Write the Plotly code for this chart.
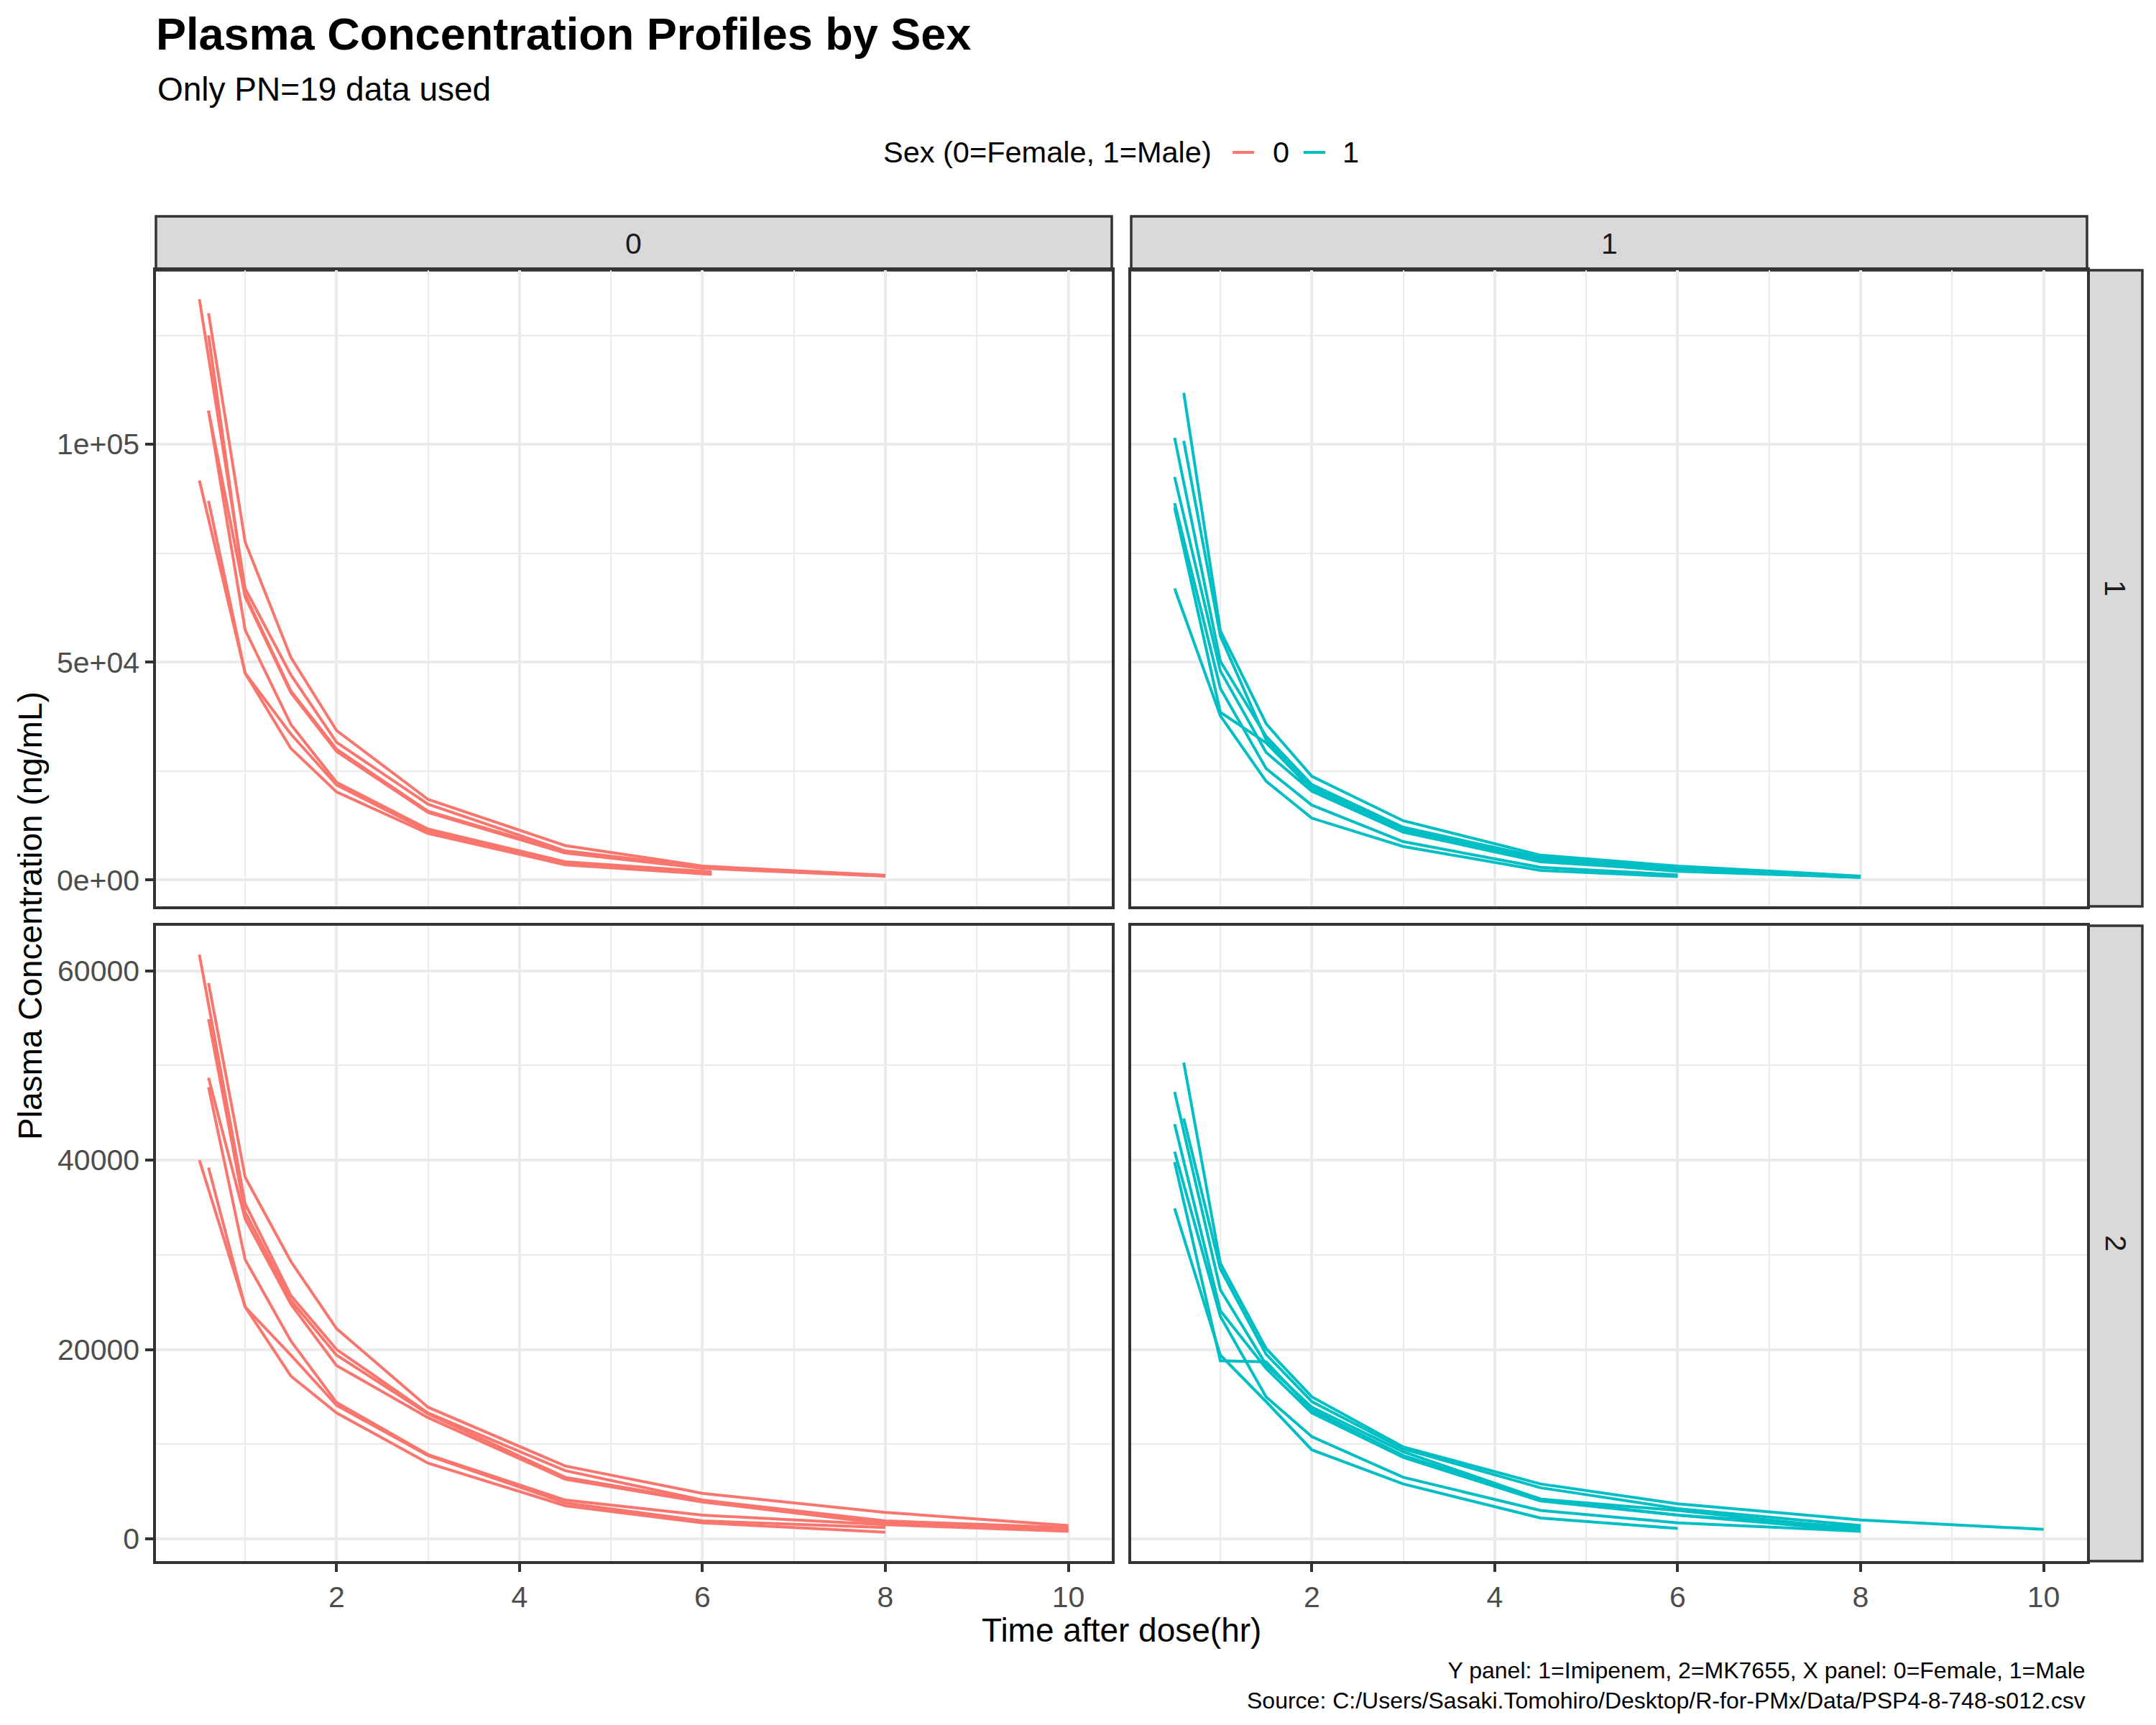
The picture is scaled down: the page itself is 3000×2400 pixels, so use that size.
"""
Profils de concentration plasmatique par sexe (Imipenem / MK7655).
Grille 2x2 : lignes = analyte (1=Imipenem, 2=MK7655), colonnes = sexe (0=Femme, 1=Homme).
"""
# Importations
import plotly.graph_objects as go

# Dimensions de la page (la page HTML garde une marge de 8 px autour du graphique)
W: int = 3000
H: int = 2400
MARGE: int = 8
FW: int = W - 2 * MARGE
FH: int = H - 2 * MARGE

# Femmes (Sex = 0) - Imipenem
f_imi_temps: list[list[float]] = [
	[0.5, 1, 1.5, 2, 3, 4.5, 6, 8],
	[0.6, 1, 1.5, 2, 3, 4.5, 6, 8],
	[0.6, 1, 1.5, 2, 3, 4.5, 6, 8],
	[0.6, 1, 1.5, 2, 3, 4.5, 6, 8],
	[0.5, 1, 1.5, 2, 3, 4.5, 6.1],
	[0.6, 1, 1.5, 2, 3, 4.5, 6.1],
	[0.6, 1, 1.5, 2, 3, 4.5, 6.1],
]
f_imi_conc: list[list[float]] = [
	[133300, 66900, 47100, 31600, 17400, 6700, 3000, 1000],
	[130100, 77600, 51100, 34300, 18500, 7900, 3200, 1100],
	[125000, 65500, 43400, 30000, 15800, 6500, 2900, 950],
	[107700, 65000, 43000, 29500, 15500, 6200, 2700, 900],
	[91700, 47500, 33500, 21800, 11200, 3700, 1500],
	[107700, 57400, 35700, 22400, 11700, 4200, 1900],
	[87000, 47500, 30200, 20200, 10700, 3500, 1300],
]

# Femmes (Sex = 0) - MK7655
f_mk_temps: list[list[float]] = [
	[0.5, 1, 1.5, 2, 3, 4.5, 6, 8, 10],
	[0.6, 1, 1.5, 2, 3, 4.5, 6, 8, 10],
	[0.6, 1, 1.5, 2, 3, 4.5, 6, 8, 10],
	[0.6, 1, 1.5, 2, 3, 4.5, 6, 8, 10],
	[0.5, 1, 1.5, 2, 3, 4.5, 6, 8],
	[0.6, 1, 1.5, 2, 3, 4.5, 6, 8, 10],
	[0.6, 1, 1.5, 2, 3, 4.5, 6, 8],
]
f_mk_conc: list[list[float]] = [
	[61700, 35400, 25700, 20000, 13300, 7200, 4100, 1900, 1200],
	[58700, 38200, 29300, 22200, 13900, 7700, 4800, 2800, 1400],
	[54900, 34500, 25200, 19400, 13200, 6500, 4000, 1700, 1000],
	[48700, 33800, 24800, 18300, 12800, 6300, 3900, 1600, 900],
	[40000, 24500, 19400, 14100, 8800, 3800, 1900, 1200],
	[47700, 29500, 20900, 14400, 8900, 4100, 2500, 1500, 800],
	[39200, 24500, 17200, 13300, 8000, 3500, 1700, 700],
]

# Hommes (Sex = 1) - Imipenem
m_imi_temps: list[list[float]] = [
	[0.6, 1, 1.5, 2, 3, 4.5, 6, 8],
	[0.6, 1, 1.5, 2, 3, 4.5, 6, 8],
	[0.5, 1, 1.5, 2, 3, 4.5, 6, 8],
	[0.5, 1, 1.5, 2, 3, 4.5, 6, 8],
	[0.5, 1, 1.5, 2, 3, 4.5, 6],
	[0.5, 1, 1.5, 2, 3, 4.5, 6, 8],
	[0.5, 1, 1.5, 2, 3, 4.5, 6],
]
m_imi_conc: list[list[float]] = [
	[111800, 57200, 35900, 23800, 13600, 5700, 3200, 900],
	[100800, 56000, 32200, 21200, 11800, 4700, 2500, 700],
	[101500, 50200, 33000, 21900, 12100, 5200, 2700, 800],
	[92500, 48000, 29300, 20400, 11000, 4200, 2200, 600],
	[86500, 44000, 25600, 17200, 8800, 2900, 1200],
	[85500, 38500, 31500, 20800, 11400, 4500, 2000, 650],
	[66900, 37700, 22700, 14200, 7700, 2200, 800],
]

# Hommes (Sex = 1) - MK7655
m_mk_temps: list[list[float]] = [
	[0.6, 1, 1.5, 2, 3, 4.5, 6, 8, 10],
	[0.6, 1, 1.5, 2, 3, 4.5, 6, 8],
	[0.5, 1, 1.5, 2, 3, 4.5, 6, 8],
	[0.5, 1, 1.5, 2, 3, 4.5, 6, 8],
	[0.5, 1, 1.5, 2, 3, 4.5, 6, 8],
	[0.5, 1, 1.5, 2, 3, 4.5, 6, 8],
	[0.5, 1, 1.5, 2, 3, 4.5, 6],
]
m_mk_conc: list[list[float]] = [
	[50300, 29100, 20100, 15000, 9700, 5800, 3700, 2000, 1000],
	[44400, 28500, 19500, 14500, 9500, 5400, 3200, 1400],
	[47200, 26300, 18400, 13900, 9200, 4200, 3000, 1000],
	[43800, 24100, 18000, 13300, 8600, 4000, 2500, 850],
	[40900, 23500, 15000, 10800, 6500, 3000, 1700, 800],
	[39800, 18800, 18700, 13600, 8800, 4200, 2500, 1200],
	[34900, 19400, 14500, 9400, 5800, 2200, 1100],
]

# Graduations et libellés
x_ticks: list[int] = [2, 4, 6, 8, 10]
x_minor: list[int] = [1, 3, 5, 7, 9]
y_ticks_imi: list[int] = [0, 50000, 100000]
y_labels_imi: list[str] = ["0e+00", "5e+04", "1e+05"]
y_minor_imi: list[int] = [25000, 75000, 125000]
y_ticks_mk: list[int] = [0, 20000, 40000, 60000]
y_labels_mk: list[str] = ["0", "20000", "40000", "60000"]
y_minor_mk: list[int] = [10000, 30000, 50000]
sexes: list[str] = ["0", "1"]
analytes: list[str] = ["1", "2"]

# Couleurs / styles (ggplot2 theme_bw)
COULEURS: dict[str, str] = {"0": "#F8766D", "1": "#00BFC4"}
POLICE: str = "Liberation Sans, Arial, sans-serif"
GRIS_BORD: str = "#333333"
GRIS_GRILLE: str = "#EBEBEB"
TAILLE_TICK: int = 41


def px(p: float) -> float:
	""" Position horizontale en pixels de page -> coordonnée papier. """
	return (p - MARGE) / FW


def py(p: float) -> float:
	""" Position verticale en pixels de page (depuis le haut) -> coordonnée papier. """
	return 1 - (p - MARGE) / FH


def etendue(listes: list[list[float]]) -> list[float]:
	""" Étendue d'axe avec expansion de 5% comme ggplot2. """
	lo: float = min(min(v) for v in listes)
	hi: float = max(max(v) for v in listes)
	pad: float = 0.05 * (hi - lo)
	return [lo - pad, hi + pad]


x_range = etendue(f_imi_temps + f_mk_temps + m_imi_temps + m_mk_temps)
y_range_imi = etendue(f_imi_conc + m_imi_conc)
y_range_mk = etendue(f_mk_conc + m_mk_conc)

# Positions des panneaux (pixels de page)
col_x: list[tuple[int, int]] = [(217, 1547), (1574, 2904)]
row_y: list[tuple[int, int]] = [(376, 1261), (1288, 2172)]
STRIP_TOP: int = 301
STRIP_RIGHT: tuple[int, int] = (2906, 2981)

fig = go.Figure()

# Panneaux : (index axe, ligne, colonne, temps, concentrations)
panneaux = [
	(1, 0, 0, f_imi_temps, f_imi_conc),
	(2, 0, 1, m_imi_temps, m_imi_conc),
	(3, 1, 0, f_mk_temps, f_mk_conc),
	(4, 1, 1, m_mk_temps, m_mk_conc),
]
for idx, row, col, temps, concs in panneaux:
	sexe = sexes[col]
	suffixe = "" if idx == 1 else str(idx)
	for t, c in zip(temps, concs):
		fig.add_trace(go.Scatter(
			x=t, y=c, mode="lines",
			line=dict(color=COULEURS[sexe], width=4),
			name=sexe, legendgroup=sexe, showlegend=False,
			xaxis="x" + suffixe, yaxis="y" + suffixe,
			hoverinfo="skip",
		))

# Axes
axe_commun = dict(
	showline=True, mirror=True, linecolor=GRIS_BORD, linewidth=3.5,
	showgrid=True, gridcolor=GRIS_GRILLE, gridwidth=3.5, zeroline=False,
	ticks="outside", ticklen=11, tickwidth=3.5, tickcolor=GRIS_BORD,
	tickfont=dict(size=TAILLE_TICK, color="#4D4D4D", family=POLICE),
	automargin=False, fixedrange=True,
)
layout_axes: dict = {}
for idx, row, col, _, _ in panneaux:
	suffixe = "" if idx == 1 else str(idx)
	x0, x1 = col_x[col]
	y0, y1 = row_y[row]
	xa = dict(axe_commun)
	xa.update(
		domain=[px(x0), px(x1)], anchor="y" + suffixe, range=x_range,
		tickmode="array", tickvals=x_ticks,
		minor=dict(tickmode="array", tickvals=x_minor, showgrid=True,
				   gridcolor=GRIS_GRILLE, gridwidth=2, ticks=""),
	)
	if row == 0:
		xa.update(ticks="", showticklabels=False)
	ya = dict(axe_commun)
	if row == 0:
		ya.update(range=y_range_imi, tickvals=y_ticks_imi, ticktext=y_labels_imi,
				  minor=dict(tickmode="array", tickvals=y_minor_imi, showgrid=True,
							 gridcolor=GRIS_GRILLE, gridwidth=2, ticks=""))
	else:
		ya.update(range=y_range_mk, tickvals=y_ticks_mk, ticktext=y_labels_mk,
				  minor=dict(tickmode="array", tickvals=y_minor_mk, showgrid=True,
							 gridcolor=GRIS_GRILLE, gridwidth=2, ticks=""))
	ya.update(tickmode="array", domain=[py(y1), py(y0)], anchor="x" + suffixe)
	if col == 1:
		ya.update(ticks="", showticklabels=False)
	layout_axes["xaxis" + suffixe] = xa
	layout_axes["yaxis" + suffixe] = ya

# Bandeaux de facettes
shapes: list[dict] = []
annotations: list[dict] = []
for col, (x0, x1) in enumerate(col_x):
	shapes.append(dict(
		type="rect", xref="paper", yref="paper",
		x0=px(x0), x1=px(x1), y0=py(row_y[0][0]), y1=py(STRIP_TOP),
		fillcolor="#D9D9D9", line=dict(color=GRIS_BORD, width=3.5), layer="below",
	))
	annotations.append(dict(
		text=sexes[col], xref="paper", yref="paper", showarrow=False,
		x=px((x0 + x1) / 2), y=py((STRIP_TOP + row_y[0][0]) / 2),
		xanchor="center", yanchor="middle",
		font=dict(size=TAILLE_TICK, color="#1A1A1A", family=POLICE),
	))
for row, (y0, y1) in enumerate(row_y):
	shapes.append(dict(
		type="rect", xref="paper", yref="paper",
		x0=px(STRIP_RIGHT[0]), x1=px(STRIP_RIGHT[1]), y0=py(y1), y1=py(y0),
		fillcolor="#D9D9D9", line=dict(color=GRIS_BORD, width=3.5), layer="below",
	))
	annotations.append(dict(
		text=analytes[row], xref="paper", yref="paper", showarrow=False, textangle=90,
		x=px((STRIP_RIGHT[0] + STRIP_RIGHT[1]) / 2), y=py((y0 + y1) / 2),
		xanchor="center", yanchor="middle",
		font=dict(size=TAILLE_TICK, color="#1A1A1A", family=POLICE),
	))

# Légende en haut (titre, clés en trait, libellés) façon ggplot2
LEG_Y: int = 212
annotations.append(dict(
	text="Sex (0=Female, 1=Male)", xref="paper", yref="paper", showarrow=False,
	x=px(1227), y=py(LEG_Y), xanchor="left", yanchor="middle",
	font=dict(size=41.5, color="#000000", family=POLICE),
))
leg_cles: list[tuple[int, int, int]] = [(1715, 1745, 1769), (1814, 1844, 1866)]
for sexe, (k0, k1, t0) in zip(sexes, leg_cles):
	shapes.append(dict(
		type="line", xref="paper", yref="paper",
		x0=px(k0), x1=px(k1), y0=py(LEG_Y), y1=py(LEG_Y),
		line=dict(color=COULEURS[sexe], width=4),
	))
	annotations.append(dict(
		text=sexe, xref="paper", yref="paper", showarrow=False,
		x=px(t0), y=py(LEG_Y), xanchor="left", yanchor="middle",
		font=dict(size=41.5, color="#000000", family=POLICE),
	))

# Textes : sous-titre, titres d'axes, légende de bas de page
annotations += [
	dict(text="Only PN=19 data used", xref="paper", yref="paper", showarrow=False,
		 x=px(217), y=py(124), xanchor="left", yanchor="middle",
		 font=dict(size=46, color="#000000", family=POLICE)),
	dict(text="Time after dose(hr)", xref="paper", yref="paper", showarrow=False,
		 x=px((col_x[0][0] + col_x[1][1]) / 2), y=py(2268), xanchor="center", yanchor="middle",
		 font=dict(size=46, color="#000000", family=POLICE)),
	dict(text="Plasma Concentration (ng/mL)", xref="paper", yref="paper", showarrow=False,
		 x=px(42), y=py((row_y[0][0] + row_y[1][1]) / 2), textangle=-90,
		 xanchor="center", yanchor="middle",
		 font=dict(size=46, color="#000000", family=POLICE)),
	dict(text="Y panel: 1=Imipenem, 2=MK7655, X panel: 0=Female, 1=Male<br>"
			  "Source: C:/Users/Sasaki.Tomohiro/Desktop/R-for-PMx/Data/PSP4-8-748-s012.csv",
		 xref="paper", yref="paper", showarrow=False, align="right",
		 x=px(col_x[1][1]), y=py(2345), xanchor="right", yanchor="middle",
		 font=dict(size=32, color="#000000", family=POLICE)),
]

fig.update_layout(
	width=FW, height=FH,
	margin=dict(l=0, r=0, t=0, b=0),
	paper_bgcolor="white", plot_bgcolor="white",
	font=dict(family=POLICE, color="#000000"),
	showlegend=False,
	title=dict(
		text="<b>Plasma Concentration Profiles by Sex</b>",
		xref="paper", x=px(217), xanchor="left", y=py(47), yanchor="middle",
		font=dict(size=63, color="#000000", family=POLICE),
	),
	shapes=shapes,
	annotations=annotations,
	**layout_axes,
)

fig.write_html("out.html")
